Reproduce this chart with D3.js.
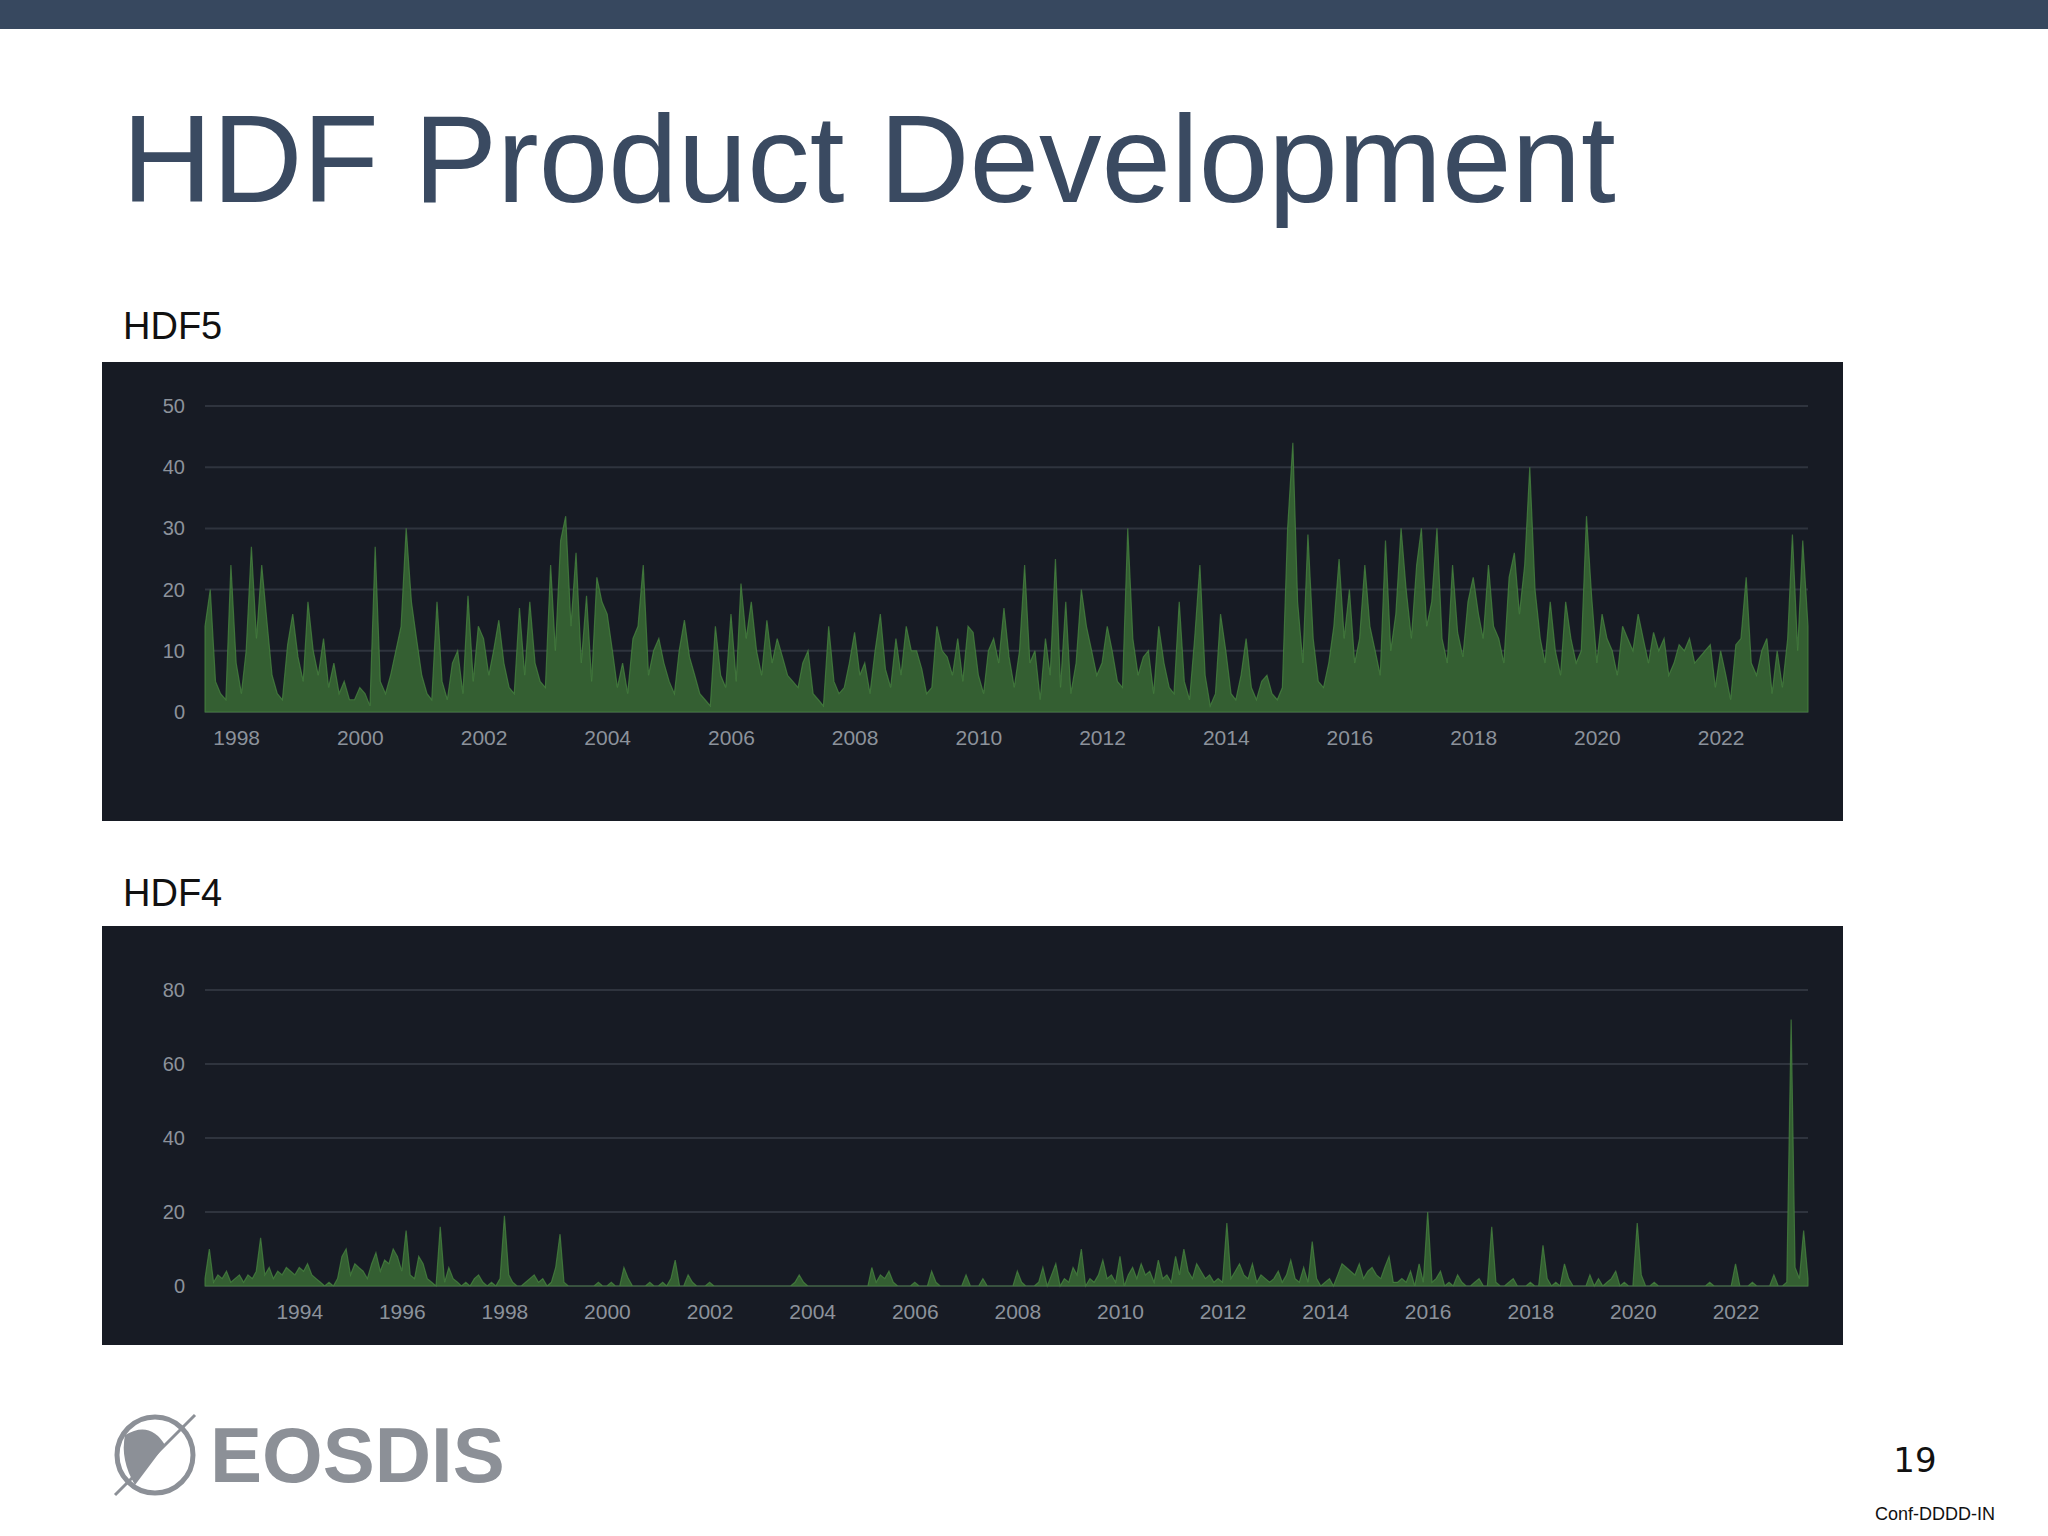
<!DOCTYPE html>
<html lang="en">
<head>
  <meta charset="utf-8" />
  <style>
    body { margin: 0; background: #fff; }
    svg { display: block; font-family: "Liberation Sans", Arial, sans-serif; }
  </style>
</head>
<body>
<svg width="2048" height="1536"></svg>
<script src="https://d3js.org/d3.v7.min.js"></script>
<script>
// HDF5 monthly commits, starting Jul 1997
var hdf5Start = new Date(1997, 6, 1);
var hdf5Values = [
  14, 20, 5, 3, 2, 24,
  8, 3, 10, 27, 12, 24, 15, 6, 3, 2, 11, 16,
  9, 5, 18, 10, 6, 12, 4, 8, 3, 5, 2, 2,
  4, 3, 1, 27, 5, 3, 6, 10, 14, 30, 18, 12,
  6, 3, 2, 18, 5, 2, 8, 10, 3, 19, 5, 14,
  12, 6, 10, 15, 8, 4, 3, 17, 6, 18, 8, 5,
  4, 24, 10, 28, 32, 14, 26, 8, 19, 5, 22, 18,
  16, 10, 4, 8, 3, 12, 14, 24, 6, 10, 12, 8,
  5, 3, 10, 15, 9, 6, 3, 2, 1, 14, 6, 4,
  16, 5, 21, 12, 18, 10, 6, 15, 8, 12, 9, 6,
  5, 4, 8, 10, 3, 2, 1, 14, 5, 3, 4, 8,
  13, 6, 8, 3, 10, 16, 7, 4, 12, 6, 14, 10,
  10, 7, 3, 4, 14, 10, 9, 6, 12, 5, 14, 13,
  6, 3, 10, 12, 8, 17, 9, 4, 10, 24, 8, 10,
  2, 12, 6, 25, 4, 18, 3, 8, 20, 14, 10, 6,
  8, 14, 10, 5, 4, 30, 12, 6, 9, 10, 3, 14,
  8, 4, 3, 18, 5, 2, 12, 24, 6, 1, 3, 16,
  10, 3, 2, 6, 12, 4, 2, 5, 6, 3, 2, 4,
  30, 44, 18, 8, 29, 12, 5, 4, 8, 14, 25, 12,
  20, 8, 12, 24, 14, 10, 6, 28, 10, 16, 30, 20,
  12, 24, 30, 14, 18, 30, 12, 8, 24, 13, 9, 18,
  22, 16, 12, 24, 14, 12, 8, 22, 26, 16, 24, 40,
  20, 12, 8, 18, 10, 6, 18, 12, 8, 10, 32, 19,
  8, 16, 12, 10, 6, 14, 12, 10, 16, 12, 8, 13,
  10, 12, 6, 8, 11, 10, 12, 8, 9, 10, 11, 4,
  10, 6, 2, 11, 12, 22, 8, 6, 10, 12, 3, 10,
  4, 12, 29, 10, 28, 14
];
var hdf5YTicks = [0, 10, 20, 30, 40, 50];

// HDF4 monthly commits, starting Mar 1992
var hdf4Start = new Date(1992, 2, 1);
var hdf4Values = [
  2, 10, 1, 3, 2, 4, 1, 2, 3, 1,
  3, 2, 4, 13, 3, 5, 2, 4, 3, 5, 4, 3,
  5, 4, 6, 3, 2, 1, 0, 1, 0, 2, 8, 10,
  3, 6, 5, 4, 2, 6, 9, 4, 7, 6, 10, 8,
  4, 15, 3, 2, 8, 6, 2, 1, 0, 16, 1, 5,
  2, 1, 0, 1, 0, 2, 3, 1, 0, 1, 0, 2,
  19, 3, 1, 0, 0, 1, 2, 3, 1, 2, 0, 1,
  5, 14, 1, 0, 0, 0, 0, 0, 0, 0, 1, 0,
  0, 1, 0, 0, 5, 2, 0, 0, 0, 0, 1, 0,
  0, 1, 0, 2, 7, 0, 0, 3, 1, 0, 0, 0,
  1, 0, 0, 0, 0, 0, 0, 0, 0, 0, 0, 0,
  0, 0, 0, 0, 0, 0, 0, 0, 1, 3, 1, 0,
  0, 0, 0, 0, 0, 0, 0, 0, 0, 0, 0, 0,
  0, 0, 5, 1, 3, 2, 4, 1, 0, 0, 0, 0,
  1, 0, 0, 0, 4, 1, 0, 0, 0, 0, 0, 0,
  3, 0, 0, 0, 2, 0, 0, 0, 0, 0, 0, 0,
  4, 1, 0, 0, 0, 1, 5, 0, 3, 6, 0, 2,
  1, 5, 3, 10, 0, 2, 1, 3, 7, 2, 3, 1,
  8, 0, 3, 5, 2, 6, 3, 4, 1, 7, 2, 3,
  1, 8, 3, 10, 4, 2, 6, 4, 2, 3, 1, 2,
  1, 17, 2, 4, 6, 3, 2, 6, 1, 3, 2, 1,
  2, 4, 1, 3, 7, 2, 1, 5, 1, 12, 2, 0,
  1, 2, 0, 3, 6, 5, 4, 3, 6, 2, 4, 5,
  3, 2, 5, 8, 1, 1, 2, 1, 4, 0, 6, 1,
  20, 1, 2, 4, 0, 1, 0, 3, 1, 0, 0, 1,
  2, 0, 0, 16, 1, 0, 0, 1, 2, 0, 0, 0,
  1, 0, 0, 11, 2, 0, 1, 0, 6, 2, 0, 0,
  0, 0, 3, 0, 2, 0, 1, 2, 4, 0, 1, 0,
  0, 17, 3, 0, 0, 1, 0, 0, 0, 0, 0, 0,
  0, 0, 0, 0, 0, 0, 1, 0, 0, 0, 0, 0,
  6, 0, 0, 0, 1, 0, 0, 0, 0, 3, 0, 0,
  1, 72, 5, 2, 15, 2
];
var hdf4YTicks = [0, 20, 40, 60, 80];

var svg = d3.select("svg");

svg.append("rect").attr("width", 2048).attr("height", 29).attr("fill", "#37485f");

svg.append("text").attr("x", 122).attr("y", 202)
  .attr("font-size", 125).attr("fill", "#3a4a61").text("HDF Product Development");

svg.append("text").attr("x", 123).attr("y", 339).attr("font-size", 38).attr("fill", "#111").text("HDF5");
svg.append("text").attr("x", 123).attr("y", 906).attr("font-size", 38).attr("fill", "#111").text("HDF4");

function toSeries(start, values) {
  return values.map(function(v, i) {
    return { date: d3.timeMonth.offset(start, i), value: v };
  });
}

function drawPanel(opt) {
  var data = toSeries(opt.start, opt.values);
  var g = svg.append("g");
  g.append("rect").attr("x", 102).attr("y", opt.top).attr("width", 1741).attr("height", opt.height).attr("fill", "#171b24");

  var x = d3.scaleTime().domain([data[0].date, data[data.length - 1].date]).range([205, 1808]);
  var y = d3.scaleLinear().domain([0, opt.ymax]).range([opt.zero, opt.ytop]);

  g.selectAll(".grid").data(opt.yticks).enter().append("line")
    .attr("x1", 205).attr("x2", 1808)
    .attr("y1", function(d) { return y(d); }).attr("y2", function(d) { return y(d); })
    .attr("stroke", "#2f343e").attr("stroke-width", 2);

  g.selectAll(".ylab").data(opt.yticks).enter().append("text")
    .attr("x", 185).attr("y", function(d) { return y(d) + 7; })
    .attr("text-anchor", "end").attr("font-size", 20).attr("fill", "#8c929b")
    .text(function(d) { return d; });

  var area = d3.area().x(function(d) { return x(d.date); }).y0(y(0)).y1(function(d) { return y(d.value); });
  g.append("path").datum(data).attr("d", area)
    .attr("fill", "#345f32").attr("stroke", "#4a8a42").attr("stroke-width", 1.2).attr("stroke-opacity", 0.7);

  var xAxis = d3.axisBottom(x).tickValues(opt.xticks.map(function(yr) { return new Date(yr, 0, 1); }))
    .tickFormat(d3.timeFormat("%Y")).tickSize(0).tickPadding(18);
  var ax = g.append("g").attr("transform", "translate(0," + opt.zero + ")").call(xAxis);
  ax.select(".domain").remove();
  ax.selectAll("text").attr("font-size", 21).attr("fill", "#8c929b").attr("font-family", "Liberation Sans, Arial, sans-serif");
}

drawPanel({ start: hdf5Start, values: hdf5Values, top: 362, height: 459, zero: 712, ytop: 406, ymax: 50,
  yticks: hdf5YTicks, xticks: d3.range(1998, 2023, 2) });
drawPanel({ start: hdf4Start, values: hdf4Values, top: 926, height: 419, zero: 1286, ytop: 990, ymax: 80,
  yticks: hdf4YTicks, xticks: d3.range(1994, 2023, 2) });

// footer logo
var logo = svg.append("g").attr("transform", "translate(155,1455)");
logo.append("circle").attr("r", 38).attr("fill", "none").attr("stroke", "#8c9097").attr("stroke-width", 5);
logo.append("path").attr("d", "M-30,-20 Q-5,-35 10,-10 Q-5,10 -20,30 Q-35,5 -30,-20Z").attr("fill", "#8c9097");
logo.append("line").attr("x1", -40).attr("y1", 40).attr("x2", 40).attr("y2", -40).attr("stroke", "#8c9097").attr("stroke-width", 3);
svg.append("text").attr("x", 210).attr("y", 1482).attr("font-size", 78).attr("font-weight", "bold")
  .attr("fill", "#8c9097").text("EOSDIS");

svg.append("text").attr("x", 1915).attr("y", 1472).attr("text-anchor", "middle").attr("font-size", 34)
  .attr("font-family", "DejaVu Sans").attr("fill", "#111").text("19");
svg.append("text").attr("x", 1935).attr("y", 1520).attr("text-anchor", "middle").attr("font-size", 18)
  .attr("fill", "#111").text("Conf-DDDD-IN");
</script>
</body>
</html>
